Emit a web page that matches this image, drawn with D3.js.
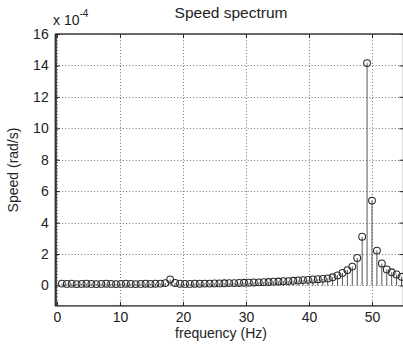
<!DOCTYPE html>
<html>
<head>
<meta charset="utf-8">
<script src="https://cdn.jsdelivr.net/npm/d3@7"></script>
<style>
  html, body { margin: 0; padding: 0; background: #fff; }
  svg { display: block; }
  text { font-family: "Liberation Sans", Arial, sans-serif; fill: #222; }
</style>
</head>
<body>
<svg id="chart" width="403" height="347"></svg>
<script>
// Frequency resolution of the spectrum (Hz per bin)
const binWidth = 0.78125;
// Bin indices shown (bin 0 / DC removed)
const bins = d3.range(1, 71);
// Speed amplitude per bin, in units of 1e-4 rad/s
const speedValues = [
  0.12, 0.10, 0.11, 0.09, 0.10, 0.11, 0.10, 0.09, 0.10, 0.11,
  0.10, 0.09, 0.10, 0.11, 0.10, 0.09, 0.10, 0.11, 0.10, 0.11,
  0.12, 0.15, 0.38, 0.16, 0.11, 0.10, 0.10, 0.11, 0.11, 0.12,
  0.12, 0.13, 0.13, 0.14, 0.15, 0.15, 0.16, 0.17, 0.18, 0.19,
  0.20, 0.21, 0.22, 0.24, 0.25, 0.27, 0.28, 0.30, 0.32, 0.34,
  0.36, 0.38, 0.40, 0.42, 0.45, 0.52, 0.64, 0.80, 0.98, 1.20,
  1.75, 3.10, 14.15, 5.40, 2.22, 1.40, 1.02, 0.84, 0.70, 0.55
];
const xTicks = [0, 10, 20, 30, 40, 50];
const yTicks = [0, 2, 4, 6, 8, 10, 12, 14, 16];

const data = bins.map((k, i) => ({ f: k * binWidth, v: speedValues[i] }));

const svg = d3.select("#chart");
const plotL = 55.7, plotR = 403.5, plotT = 34, plotB = 305.9;

const x = d3.scaleLinear().domain([-0.2, 55]).range([plotL, plotR]);
const y = d3.scaleLinear().domain([-1.3, 16]).range([plotB, plotT]);

// dotted grid
const grid = svg.append("g").attr("stroke", "#6e6e6e").attr("stroke-width", 1)
  .attr("stroke-dasharray", "1,2.2");
grid.selectAll("line.gx").data(xTicks).join("line")
  .attr("x1", d => Math.round(x(d)) + 0.5).attr("x2", d => Math.round(x(d)) + 0.5)
  .attr("y1", plotT).attr("y2", plotB);
grid.selectAll("line.gy").data(yTicks).join("line")
  .attr("y1", d => Math.round(y(d)) + 0.5).attr("y2", d => Math.round(y(d)) + 0.5)
  .attr("x1", plotL).attr("x2", plotR);

// stems
svg.append("g").selectAll("line").data(data).join("line")
  .attr("x1", d => x(d.f)).attr("x2", d => x(d.f))
  .attr("y1", y(0)).attr("y2", d => y(d.v))
  .attr("stroke", "#555").attr("stroke-width", 1);

// stem markers
svg.append("g").selectAll("circle").data(data).join("circle")
  .attr("cx", d => x(d.f)).attr("cy", d => y(d.v)).attr("r", 3.4)
  .attr("fill", "none").attr("stroke", "#2a2a2a").attr("stroke-width", 1.05);

// axes box with inward ticks
svg.append("rect").attr("x", plotL).attr("y", plotT)
  .attr("width", plotR - plotL).attr("height", plotB - plotT)
  .attr("fill", "none").attr("stroke", "#222").attr("stroke-width", 1.3);
svg.append("line").attr("x1", plotL).attr("x2", plotL).attr("y1", plotT).attr("y2", plotB)
  .attr("stroke", "#333").attr("stroke-width", 2.2);

const xAxisB = d3.axisBottom(x).tickValues(xTicks).tickSizeInner(-4).tickSizeOuter(0).tickPadding(6);
const xAxisT = d3.axisTop(x).tickValues(xTicks).tickSizeInner(-4).tickSizeOuter(0).tickFormat("");
const yAxisL = d3.axisLeft(y).tickValues(yTicks).tickSizeInner(-4).tickSizeOuter(0).tickPadding(7);
const yAxisR = d3.axisRight(y).tickValues(yTicks).tickSizeInner(-4).tickSizeOuter(0).tickFormat("");

function style(g) {
  g.select(".domain").remove();
  g.selectAll(".tick line").attr("stroke", "#222");
  g.selectAll(".tick text").attr("font-size", 14).attr("fill", "#222")
    .attr("font-family", "'Liberation Sans', Arial, sans-serif");
}
svg.append("g").attr("transform", `translate(0,${plotB})`).call(xAxisB).call(style);
svg.append("g").attr("transform", `translate(0,${plotT})`).call(xAxisT).call(style);
svg.append("g").attr("transform", `translate(${plotL},0)`).call(yAxisL).call(style);
svg.append("g").attr("transform", `translate(${plotR},0)`).call(yAxisR).call(style);

// title, labels and exponent
svg.append("text").attr("x", 231).attr("y", 18).attr("text-anchor", "middle")
  .attr("font-size", 15.5).text("Speed spectrum");
svg.append("text").attr("x", 221).attr("y", 338).attr("text-anchor", "middle")
  .attr("font-size", 14).text("frequency (Hz)");
svg.append("text").attr("transform", "translate(18,170) rotate(-90)")
  .attr("text-anchor", "middle").attr("font-size", 14).text("Speed (rad/s)");
const expo = svg.append("text").attr("x", 53).attr("y", 25).attr("font-size", 14);
expo.append("tspan").text("x 10");
expo.append("tspan").attr("dy", -8).attr("font-size", 10).text("-4");
</script>
</body>
</html>
